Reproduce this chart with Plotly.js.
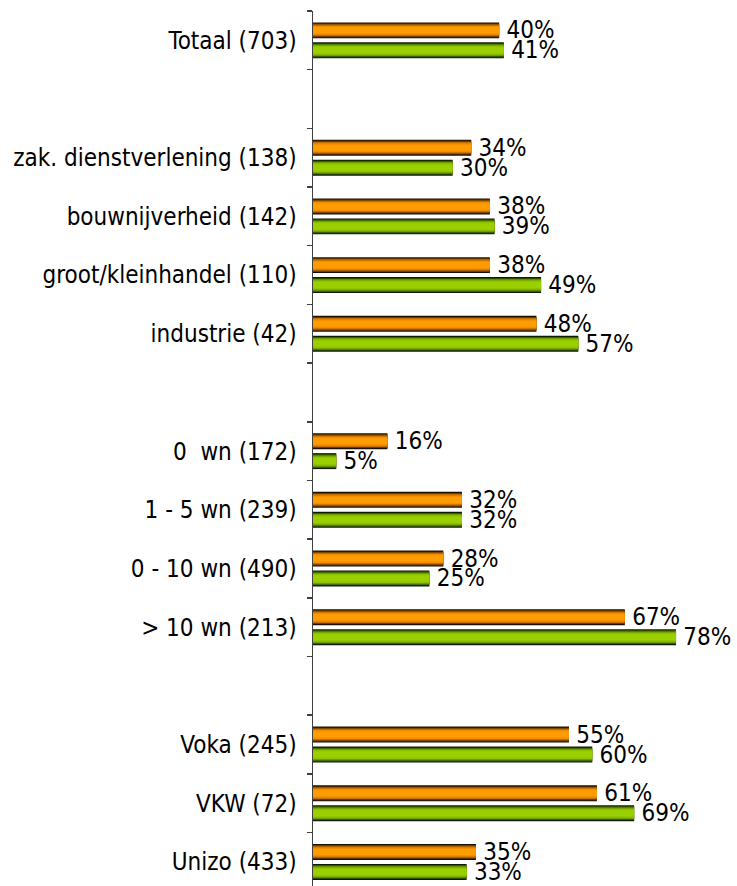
<!DOCTYPE html>
<html>
<head>
<meta charset="utf-8">
<script src="https://cdn.plot.ly/plotly-3.0.1.min.js"></script>
<style>html,body{margin:0;padding:0;background:#fff;}#chart{width:737px;height:886px;}</style>
</head>
<body>
<div id="chart"></div>
<script>
const categories = ["Totaal (703)", " ", "zak. dienstverlening (138)", "bouwnijverheid (142)", "groot/kleinhandel (110)", "industrie (42)", "  ", "0  wn (172)", "1 - 5 wn (239)", "0 - 10 wn (490)", "> 10 wn (213)", "   ", "Voka (245)", "VKW (72)", "Unizo (433)"];
const seriesOrange = [40, null, 34, 38, 38, 48, null, 16, 32, 28, 67, null, 55, 61, 35];
const seriesGreen  = [41, null, 30, 39, 49, 57, null, 5, 32, 25, 78, null, 60, 69, 33];

const FONT = '"DejaVu Sans Condensed", "DejaVu Sans", sans-serif';
const barW = 0.272;
const orangeCenter = -0.17;
const greenCenter = 0.17;
const orangeLayers = ["#1a0f00", "#6b3d00", "#c26e00", "#f28e00", "#ff9c00"];
const greenLayers  = ["#0f1a00", "#3d5c00", "#6f9e00", "#8cc400", "#9ccf00"];
const fracs = [1.0, 0.86, 0.72, 0.56, 0.38];

function layered(vals, center, colors, name) {
  return fracs.map((f, i) => {
    const w = barW * f;
    const t = {
      type: 'bar', orientation: 'h', name: name,
      y: categories, x: vals,
      width: w, offset: center - w / 2,
      marker: {color: colors[i], line: {width: 0}},
      hoverinfo: 'x', showlegend: false,
      cliponaxis: false
    };
    if (i === 0) {
      t.text = vals.map(v => v === null ? '' : '\u2009' + v + '%');
      t.textposition = 'outside';
      t.constraintext = 'none';
      t.textfont = {family: FONT, size: 24, color: '#000'};
    }
    return t;
  });
}

const data = [].concat(layered(seriesOrange, orangeCenter, orangeLayers, 'oranje'),
                       layered(seriesGreen, greenCenter, greenLayers, 'groen'));

const layout = {
  width: 737, height: 886,
  margin: {l: 313, r: 0, t: 11, b: 0, pad: 0},
  paper_bgcolor: '#fff', plot_bgcolor: '#fff',
  barmode: 'overlay',
  showlegend: false,
  font: {family: FONT, size: 24, color: '#000'},
  xaxis: {range: [0, 91.1], visible: false, showgrid: false, zeroline: false, fixedrange: true},
  yaxis: {
    type: 'category', categoryorder: 'array', categoryarray: categories,
    range: [14.41, -0.5],
    showline: true, linecolor: '#404040', linewidth: 1.5,
    ticks: 'outside', tickson: 'boundaries', ticklen: 5, tickcolor: '#404040', tickwidth: 1.5,
    showgrid: false, zeroline: false,
    tickfont: {family: FONT, size: 24, color: '#000'},
    ticklabelstandoff: 10,
    fixedrange: true
  }
};

Plotly.newPlot('chart', data, layout, {staticPlot: true, displayModeBar: false});
</script>
</body>
</html>
